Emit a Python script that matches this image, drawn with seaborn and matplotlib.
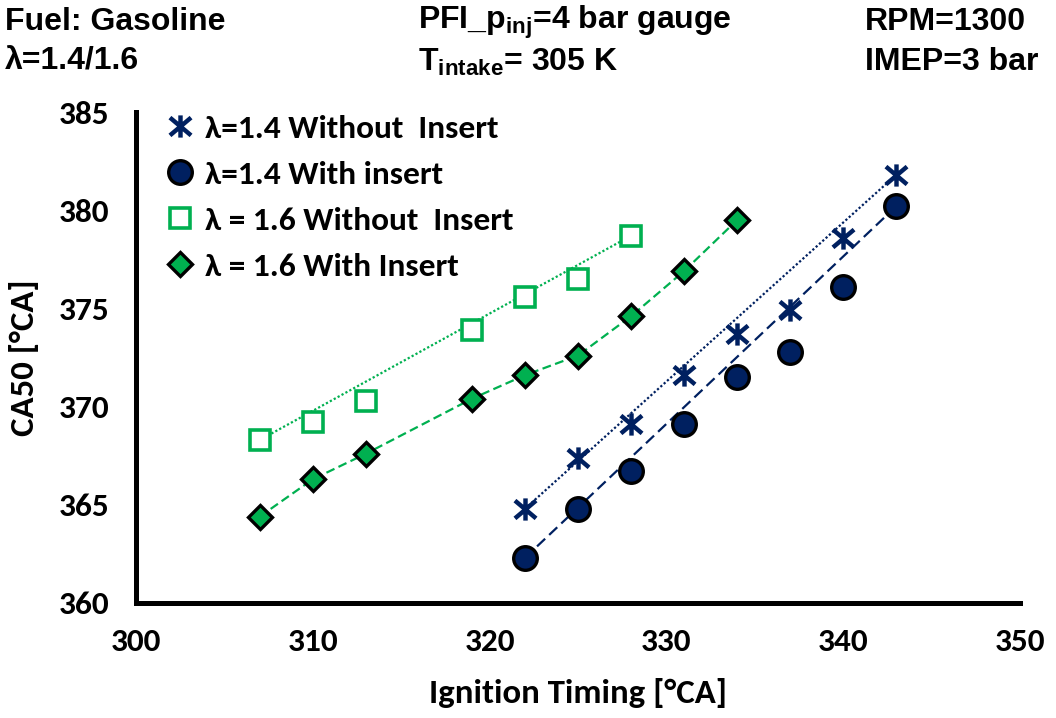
import numpy as np
import pandas as pd
import matplotlib
matplotlib.use("Agg")
import matplotlib.pyplot as plt
from matplotlib.path import Path
from matplotlib.lines import Line2D
import seaborn as sns

# Ignition timing sweeps [°CA] and resulting CA50 [°CA]
it_l14 = [322, 325, 328, 331, 334, 337, 340, 343]
ca50_l14_without = [364.8, 367.4, 369.1, 371.6, 373.7, 374.9, 378.6, 381.8]
ca50_l14_with = [362.3, 364.8, 366.7, 369.1, 371.5, 372.8, 376.1, 380.2]

it_l16_without = [307, 310, 313, 319, 322, 325, 328]
ca50_l16_without = [368.3, 369.2, 370.3, 373.9, 375.6, 376.5, 378.7]

it_l16_with = [307, 310, 313, 319, 322, 325, 328, 331, 334]
ca50_l16_with = [364.4, 366.3, 367.6, 370.4, 371.6, 372.6, 374.6, 376.9, 379.5]

labels = ["λ=1.4 Without  Insert", "λ=1.4 With insert",
          "λ = 1.6 Without  Insert", "λ = 1.6 With Insert"]

NAVY = "#002060"
GREEN = "#00B050"

sns.set_theme(style="white")
BODY = ["Carlito", "Lato", "DejaVu Sans"]
HEAD = ["Liberation Sans", "DejaVu Sans"]
plt.rcParams["font.family"] = BODY
plt.rcParams["font.weight"] = "bold"
for key in ["text.color", "axes.labelcolor", "xtick.color", "ytick.color"]:
    plt.rcParams[key] = "black"
plt.rcParams["mathtext.fontset"] = "custom"
plt.rcParams["mathtext.rm"] = "Liberation Sans:bold"
plt.rcParams["mathtext.it"] = "Liberation Sans:bold"
plt.rcParams["mathtext.bf"] = "Liberation Sans:bold"

# asterisk-style marker: vertical bar crossed by an X
star_verts = [(0, -1), (0, 1),
              (-0.95, -0.8), (0.95, 0.8),
              (-0.95, 0.8), (0.95, -0.8)]
star_codes = [Path.MOVETO, Path.LINETO] * 3
STAR = Path(star_verts, star_codes)

fig = plt.figure(figsize=(10.56, 7.18), dpi=100)
ax = fig.add_axes([136 / 1056, 1 - 603 / 718, (1020 - 136) / 1056, (603 - 112) / 718])

df14a = pd.DataFrame({"it": it_l14, "ca50": ca50_l14_without})
df14b = pd.DataFrame({"it": it_l14, "ca50": ca50_l14_with})
df16a = pd.DataFrame({"it": it_l16_without, "ca50": ca50_l16_without})
df16b = pd.DataFrame({"it": it_l16_with, "ca50": ca50_l16_with})

# guide lines from first to last point of each sweep
ends = [0, -1]
sns.lineplot(data=df14a.iloc[ends], x="it", y="ca50", ax=ax, color=NAVY,
             lw=1.6, ls=(0, (1, 1)))
sns.lineplot(data=df14b.iloc[ends], x="it", y="ca50", ax=ax, color=NAVY,
             lw=1.6, ls=(0, (5, 2.5)))
sns.lineplot(data=df16a.iloc[ends], x="it", y="ca50", ax=ax, color=GREEN,
             lw=1.6, ls=(0, (1, 1)))
# connected series
sns.lineplot(data=df16b, x="it", y="ca50", ax=ax, color=GREEN, lw=1.6,
             ls=(0, (4, 2)))

ax.plot(df14a["it"], df14a["ca50"], ls="none", marker=STAR, ms=16,
        mec=NAVY, mew=3.2, zorder=5)
ax.plot(df14b["it"], df14b["ca50"], ls="none", marker="o", ms=17,
        mfc=NAVY, mec="black", mew=2.4, zorder=5)
ax.plot(df16a["it"], df16a["ca50"], ls="none", marker="s", ms=15,
        mfc="white", mec=GREEN, mew=2.6, zorder=5)
ax.plot(df16b["it"], df16b["ca50"], ls="none", marker="D", ms=12,
        mfc=GREEN, mec="black", mew=2.4, zorder=5)

ax.set_xlim(300, 350)
ax.set_ylim(360, 385)
ax.set_xticks(np.arange(300, 351, 10))
ax.set_yticks(np.arange(360, 386, 5))
for s in ["top", "right"]:
    ax.spines[s].set_visible(False)
for s in ["left", "bottom"]:
    ax.spines[s].set_color("black")
    ax.spines[s].set_linewidth(3.6)
ax.tick_params(axis="x", direction="out", length=6, width=3.6, color="black",
               pad=12, labelsize=24)
ax.tick_params(axis="y", direction="out", length=8, width=3.6, color="black",
               pad=11, labelsize=24)
for lab in ax.get_xticklabels() + ax.get_yticklabels():
    lab.set_fontweight("bold")
ax.set_xlabel("Ignition Timing [°CA]", fontsize=25, fontweight="bold", labelpad=16)
ax.set_ylabel("CA50 [°CA]", fontsize=25, fontweight="bold", labelpad=14)

handles = [
    Line2D([], [], ls="none", marker=STAR, ms=16, mec=NAVY, mew=3.2),
    Line2D([], [], ls="none", marker="o", ms=17, mfc=NAVY, mec="black", mew=2.4),
    Line2D([], [], ls="none", marker="s", ms=15, mfc="white", mec=GREEN, mew=2.6),
    Line2D([], [], ls="none", marker="D", ms=12, mfc=GREEN, mec="black", mew=2.4),
]
leg = ax.legend(handles, labels, loc="upper left", bbox_to_anchor=(0.016, 1.022),
                frameon=False, prop=dict(size=24, weight="bold"),
                handlelength=1.0, handletextpad=0.25, labelspacing=0.53,
                borderaxespad=0)

# run conditions header
hs = 23
def header(x, y, s):
    fig.text(x / 1056, 1 - y / 718, s, family=HEAD, weight="bold",
             size=hs, va="center", ha="left")

header(5, 22, "Fuel: Gasoline")
header(5, 62, "λ=1.4/1.6")
header(418, 22, r"PFI_p$_{inj}$=4 bar gauge")
header(418, 62, r"T$_{intake}$= 305 K")
header(865, 22, "RPM=1300")
header(865, 62, "IMEP=3 bar")

fig.savefig("out.png", dpi=100)
